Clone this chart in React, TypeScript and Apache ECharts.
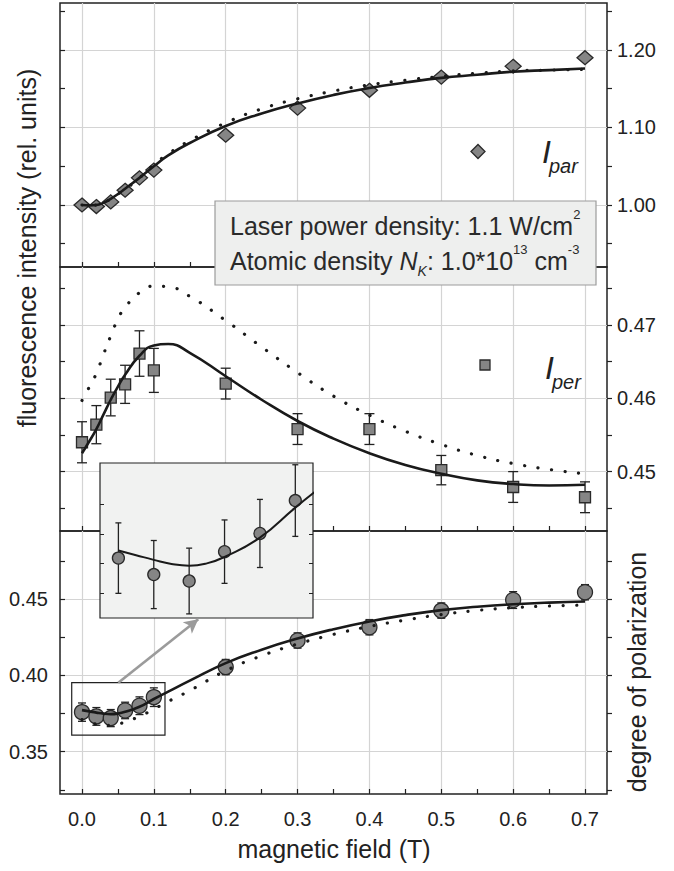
import React, { useEffect, useRef } from "react";
import * as echarts from "echarts";

// ---------- data ----------
const fieldT = [0, 0.02, 0.04, 0.06, 0.08, 0.1, 0.2, 0.3, 0.4, 0.5, 0.6, 0.7];
const iParallel = [1.0, 0.998, 1.004, 1.019, 1.035, 1.045, 1.09, 1.125, 1.148, 1.165, 1.179, 1.19];
const iPerpendicular = [0.454, 0.4564, 0.4601, 0.4619, 0.4661, 0.4638, 0.462, 0.4558, 0.4558, 0.4502, 0.4479, 0.4465];
const iPerpendicularErr = [0.0028, 0.0026, 0.0025, 0.0026, 0.0031, 0.003, 0.0021, 0.0021, 0.0021, 0.002, 0.0021, 0.0021];
const polarization = [0.3759, 0.3731, 0.372, 0.377, 0.3801, 0.3857, 0.4054, 0.4228, 0.4315, 0.4424, 0.4493, 0.4544];
const polarizationErr = [0.006, 0.0058, 0.0056, 0.0054, 0.0058, 0.0061, 0.005, 0.005, 0.005, 0.005, 0.0055, 0.005];

const fitField = [0, 0.01, 0.02, 0.03, 0.04, 0.05, 0.06, 0.08, 0.1, 0.12, 0.15, 0.2, 0.25, 0.3, 0.35, 0.4, 0.45, 0.5, 0.55, 0.6, 0.65, 0.7];
const iParFit = [1.0, 0.9995, 1.0, 1.003, 1.008, 1.014, 1.021, 1.035, 1.05, 1.064, 1.08, 1.102, 1.118, 1.131, 1.142, 1.151, 1.158, 1.164, 1.168, 1.172, 1.174, 1.176];
const iParFitAlt = [1.0, 0.9995, 1.0, 1.003, 1.008, 1.014, 1.02, 1.035, 1.052, 1.066, 1.083, 1.106, 1.124, 1.137, 1.147, 1.155, 1.161, 1.166, 1.17, 1.173, 1.174, 1.175];
const iPerFit = [0.4525, 0.4541, 0.4558, 0.4578, 0.4598, 0.4616, 0.4632, 0.4658, 0.4672, 0.4674, 0.4662, 0.463, 0.4598, 0.4569, 0.4545, 0.4525, 0.4509, 0.4497, 0.4488, 0.4483, 0.4481, 0.4482];
const iPerFitAlt = [0.4597, 0.4615, 0.4634, 0.466, 0.4685, 0.4708, 0.4724, 0.4744, 0.4753, 0.4752, 0.4739, 0.4706, 0.467, 0.4635, 0.4603, 0.4577, 0.4555, 0.4537, 0.4522, 0.4511, 0.4503, 0.4497];
const polFit = [0.3772, 0.3764, 0.3756, 0.3749, 0.3746, 0.375, 0.3761, 0.3794, 0.3845, 0.3893, 0.3965, 0.408, 0.4168, 0.4241, 0.4302, 0.4353, 0.4394, 0.4427, 0.4449, 0.4465, 0.4476, 0.4483];
const polFitAlt = [0.371, 0.3695, 0.368, 0.3673, 0.3672, 0.368, 0.3695, 0.3731, 0.3779, 0.3829, 0.39, 0.403, 0.4128, 0.4205, 0.4268, 0.432, 0.4362, 0.4398, 0.4425, 0.4443, 0.4454, 0.446];

const fieldTicks = [0, 0.1, 0.2, 0.3, 0.4, 0.5, 0.6, 0.7];
const iParTicks = [1.0, 1.1, 1.2];
const iPerTicks = [0.45, 0.46, 0.47];
const polTicks = [0.35, 0.4, 0.45];
const insetTicks = [0.37, 0.375, 0.38, 0.385];

// ---------- styling / layout ----------
const FONT = '"Liberation Sans", Arial, Helvetica, sans-serif';
const INK = "#222";
const GRIDLINE = "#d4d4d4";
const MARK_FILL = "#858585";

const seq = (a: number, b: number, s: number) => {
  const out: number[] = [];
  for (let k = 0; a + k * s <= b + 1e-9; k++) out.push(Number((a + k * s).toFixed(4)));
  return out;
};

const X_MIN = -0.0306;
const X_MAX = 0.7306;

const panels = [
  { top: 3, height: 264, min: 0.92, max: 1.2606, minor: seq(0.95, 1.25, 0.05), major: iParTicks, labelRight: true },
  { top: 267, height: 264, min: 0.4419, max: 0.4779, minor: seq(0.445, 0.475, 0.005), major: iPerTicks, labelRight: true },
  { top: 531, height: 263, min: 0.3223, max: 0.4945, minor: seq(0.325, 0.475, 0.025), major: polTicks, labelRight: false },
];

function buildOption() {
  const grid: any[] = panels.map((p) => ({
    left: 60,
    width: 547,
    top: p.top,
    height: p.height,
    show: true,
    backgroundColor: "transparent",
    borderColor: INK,
    borderWidth: 1.5,
    outerBoundsMode: "none",
  }));
  grid.push({
    left: 100,
    top: 463,
    width: 213,
    height: 155,
    show: true,
    z: 5,
    backgroundColor: "#f1f2f1",
    borderColor: INK,
    borderWidth: 1.2,
    outerBoundsMode: "none",
  });

  const labelStyle = { fontFamily: FONT, fontSize: 20, color: INK };
  const xAxis: any[] = [];
  const yAxis: any[] = [];
  panels.forEach((p, g) => {
    xAxis.push({
      type: "value",
      gridIndex: g,
      min: X_MIN,
      max: X_MAX,
      position: "bottom",
      axisLine: { show: false, onZero: false },
      axisTick: { show: true, inside: true, length: 5, customValues: seq(0, 0.7, 0.05), lineStyle: { color: INK, width: 1.2 } },
      axisLabel:
        g === 2
          ? { show: true, ...labelStyle, margin: 15, customValues: fieldTicks, formatter: (v: number) => v.toFixed(1) }
          : { show: false },
      splitLine: { show: false },
    });
    xAxis.push({
      type: "value",
      gridIndex: g,
      min: X_MIN,
      max: X_MAX,
      splitNumber: 8,
      position: "top",
      axisLine: { show: false, onZero: false },
      axisTick: { show: false, customValues: fieldTicks },
      axisLabel: { show: false },
      splitLine: { show: true, lineStyle: { color: GRIDLINE, width: 1.2 } },
    });
    yAxis.push({
      type: "value",
      gridIndex: g,
      min: p.min,
      max: p.max,
      position: "left",
      axisLine: { show: false, onZero: false },
      axisTick: { show: true, inside: true, length: 5, customValues: p.minor, lineStyle: { color: INK, width: 1.2 } },
      axisLabel: !p.labelRight
        ? { show: true, ...labelStyle, margin: 12, customValues: p.major, formatter: (v: number) => v.toFixed(2) }
        : { show: false },
      splitLine: { show: false },
    });
    yAxis.push({
      type: "value",
      gridIndex: g,
      min: p.min,
      max: p.max,
      position: "right",
      axisLine: { show: false, onZero: false },
      axisTick: { show: true, inside: false, length: 5, customValues: p.minor, lineStyle: { color: INK, width: 1.2 } },
      axisLabel: p.labelRight
        ? { show: true, ...labelStyle, margin: 10, customValues: p.major, formatter: (v: number) => v.toFixed(2) }
        : { show: false },
      splitLine: { show: false },
    });
    yAxis.push({
      type: "value",
      gridIndex: g,
      min: p.min,
      max: p.max,
      splitNumber: 4,
      position: "left",
      axisLine: { show: false, onZero: false },
      axisTick: { show: false, customValues: p.major },
      axisLabel: { show: false },
      splitLine: { show: true, lineStyle: { color: GRIDLINE, width: 1.2 } },
    });
  });
  // inset axes (index x:6, y:9,10)
  xAxis.push({
    type: "value",
    gridIndex: 3,
    min: -0.0104,
    max: 0.11,
    z: 6,
    axisLine: { show: false, onZero: false },
    axisTick: { show: false },
    axisLabel: { show: false },
    splitLine: { show: false },
  });
  ["left", "right"].forEach((pos) =>
    yAxis.push({
      type: "value",
      gridIndex: 3,
      min: 0.3657,
      max: 0.3921,
      position: pos,
      z: 6,
      axisLine: { show: false, onZero: false },
      axisTick: { show: true, inside: true, length: 4, customValues: insetTicks, lineStyle: { color: INK, width: 1 } },
      axisLabel: { show: false },
      splitLine: { show: false },
    })
  );

  const errorBars = (ys: number[], errs: number[], xi: number, yi: number, cap: number, z: number) => ({
    type: "custom",
    xAxisIndex: xi,
    yAxisIndex: yi,
    z,
    silent: true,
    clip: true,
    data: fieldT.map((x, i) => [x, ys[i] - errs[i], ys[i] + errs[i]]),
    encode: { x: 0, y: [1, 2] },
    renderItem: (_params: any, api: any) => {
      const x = api.value(0);
      const top = api.coord([x, api.value(2)]);
      const bot = api.coord([x, api.value(1)]);
      const st = { stroke: INK, lineWidth: 1.3 };
      return {
        type: "group",
        children: [
          { type: "line", shape: { x1: top[0], y1: top[1], x2: bot[0], y2: bot[1] }, style: st },
          { type: "line", shape: { x1: top[0] - cap, y1: top[1], x2: top[0] + cap, y2: top[1] }, style: st },
          { type: "line", shape: { x1: bot[0] - cap, y1: bot[1], x2: bot[0] + cap, y2: bot[1] }, style: st },
        ],
      };
    },
  });

  const points = (ys: number[], xi: number, yi: number, symbol: string, size: any, z: number) => ({
    type: "scatter",
    xAxisIndex: xi,
    yAxisIndex: yi,
    z,
    silent: true,
    clip: true,
    symbol,
    symbolSize: size,
    itemStyle: { color: MARK_FILL, borderColor: "#2a2a2a", borderWidth: 1.3, opacity: 1 },
    data: fieldT.map((x, i) => [x, ys[i]]),
  });

  const curve = (ys: number[], xi: number, yi: number, dotted: boolean, z: number, width = 2.6) => ({
    type: "line",
    xAxisIndex: xi,
    yAxisIndex: yi,
    z,
    silent: true,
    clip: true,
    symbol: "none",
    showSymbol: false,
    smooth: 0.5,
    data: fitField.map((x, i) => [x, ys[i]]),
    lineStyle: dotted
      ? { color: "#1a1a1a", width: 3.2, type: [0.1, 13.5], cap: "round" }
      : { color: "#1a1a1a", width },
  });

  const polCurve: any = curve(polFit, 4, 6, false, 4);
  polCurve.markArea = {
    silent: true,
    itemStyle: { color: "rgba(0,0,0,0)", borderColor: INK, borderWidth: 1.2 },
    label: { show: false },
    data: [[{ coord: [-0.0143, 0.3952] }, { coord: [0.1155, 0.3609] }]],
  };
  polCurve.markLine = {
    silent: true,
    symbol: ["none", "arrow"],
    symbolSize: [11, 14],
    label: { show: false },
    lineStyle: { color: "#9b9b9b", width: 2.6, type: "solid" },
    itemStyle: { color: "#9b9b9b" },
    data: [[{ coord: [0.0505, 0.3952] }, { coord: [0.1618, 0.4367] }]],
  };

  const series: any[] = [
    points(iParallel, 0, 0, "diamond", [16, 14], 3),
    curve(iParFit, 0, 0, false, 4),
    curve(iParFitAlt, 0, 0, true, 4),

    errorBars(iPerpendicular, iPerpendicularErr, 2, 3, 5, 3),
    points(iPerpendicular, 2, 3, "rect", 11, 3),
    curve(iPerFit, 2, 3, false, 4),
    curve(iPerFitAlt, 2, 3, true, 4),

    errorBars(polarization, polarizationErr, 4, 6, 4, 3),
    points(polarization, 4, 6, "circle", 15, 3),
    polCurve,
    curve(polFitAlt, 4, 6, true, 4),

    errorBars(polarization, polarizationErr, 6, 9, 3, 7),
    points(polarization, 6, 9, "circle", 12, 7),
    curve(polFit, 6, 9, false, 8, 2),
  ];

  const textBase = { fontFamily: FONT, fill: INK };
  const graphic: any[] = [
    // info box
    {
      type: "rect",
      z: 20,
      shape: { x: 215, y: 201, width: 381, height: 84 },
      style: { fill: "#eeefee", stroke: "#9c9c9c", lineWidth: 1.2 },
    },
    {
      type: "text",
      z: 21,
      x: 230,
      y: 243,
      style: {
        ...textBase,
        fill: "#2a2a2a",
        text: "Laser power density: 1.1 W/cm{sup|2}\nAtomic density {it|N}{sub|K}: 1.0*10{sup|13} cm{sup|-3}",
        fontSize: 25,
        lineHeight: 35,
        align: "left",
        verticalAlign: "middle",
        rich: {
          sup: { fontFamily: FONT, fontSize: 13, lineHeight: 13, verticalAlign: "top", fill: "#2a2a2a" },
          sub: { fontFamily: FONT, fontSize: 14, lineHeight: 14, fontStyle: "italic", verticalAlign: "bottom", fill: "#2a2a2a" },
          it: { fontFamily: FONT, fontSize: 25, fontStyle: "italic", fill: "#2a2a2a" },
        },
      },
    },
    // legend: I_par
    {
      type: "polygon",
      z: 20,
      shape: { points: [[471, 151.5], [478, 144.5], [485, 151.5], [478, 158.5]] },
      style: { fill: MARK_FILL, stroke: "#2a2a2a", lineWidth: 1.3 },
    },
    { type: "text", z: 20, x: 542, y: 151.5, style: { ...textBase, text: "I", fontSize: 32, fontStyle: "italic", verticalAlign: "middle" } },
    { type: "text", z: 20, x: 549, y: 166, style: { ...textBase, text: "par", fontSize: 20, fontStyle: "italic", verticalAlign: "middle" } },
    // legend: I_per
    {
      type: "rect",
      z: 20,
      shape: { x: 480, y: 360, width: 10, height: 10 },
      style: { fill: MARK_FILL, stroke: "#2a2a2a", lineWidth: 1.3 },
    },
    { type: "text", z: 20, x: 545, y: 367.5, style: { ...textBase, text: "I", fontSize: 32, fontStyle: "italic", verticalAlign: "middle" } },
    { type: "text", z: 20, x: 552, y: 382, style: { ...textBase, text: "per", fontSize: 20, fontStyle: "italic", verticalAlign: "middle" } },
    // axis titles
    {
      type: "text",
      z: 20,
      x: 27,
      y: 248,
      rotation: Math.PI / 2,
      style: { ...textBase, text: "fluorescence intensity (rel. units)", fontSize: 25, align: "center", verticalAlign: "middle" },
    },
    {
      type: "text",
      z: 20,
      x: 637,
      y: 672,
      rotation: Math.PI / 2,
      style: { ...textBase, text: "degree of polarization", fontSize: 25, align: "center", verticalAlign: "middle" },
    },
    {
      type: "text",
      z: 20,
      x: 334,
      y: 849,
      style: { ...textBase, text: "magnetic field (T)", fontSize: 25, align: "center", verticalAlign: "middle" },
    },
  ];

  return {
    animation: false,
    backgroundColor: "#ffffff",
    grid,
    xAxis,
    yAxis,
    series,
    graphic,
  };
}

export default function App() {
  const ref = useRef<HTMLDivElement>(null);
  useEffect(() => {
    if (!ref.current) return;
    const chart = echarts.init(ref.current, null, { renderer: "svg" });
    chart.setOption(buildOption() as any);
    return () => chart.dispose();
  }, []);
  return (
    <div
      ref={ref}
      style={{ position: "absolute", left: 0, top: 0, width: 674, height: 871, background: "#fff" }}
    />
  );
}
